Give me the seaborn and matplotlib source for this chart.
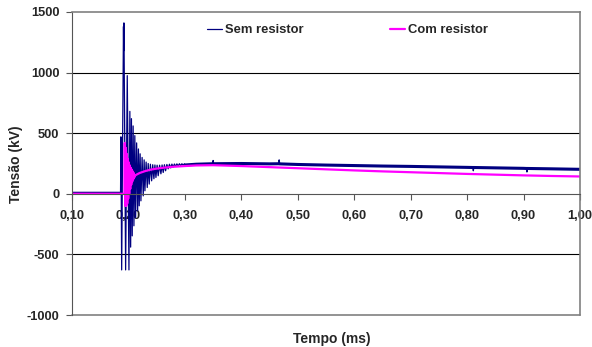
import numpy as np
import pandas as pd
import matplotlib
matplotlib.use('Agg')
import matplotlib.pyplot as plt
import seaborn as sns

# Sem resistor (tempo em ms, tensao em kV) - extremos
sem_t = [0.100, 0.150, 0.1860, 0.1867, 0.1880, 0.1912, 0.1916, 0.1920, 0.1950,
         0.1979, 0.2009,
         0.2025, 0.2039, 0.2053, 0.2067, 0.2083, 0.2097, 0.2113, 0.2127, 0.2145,
         0.2163, 0.2177, 0.2191, 0.2207, 0.2221, 0.2242, 0.2262, 0.2278, 0.2292,
         0.2313, 0.2333, 0.2350, 0.2368, 0.2389, 0.2411, 0.2430, 0.2451, 0.2469,
         0.2487, 0.2508, 0.2527, 0.2552, 0.2575, 0.2596, 0.2616, 0.2637, 0.2658,
         0.2681, 0.2704, 0.2726, 0.2749, 0.2770, 0.2793, 0.2814, 0.2837, 0.2858,
         0.2881, 0.2903, 0.2926, 0.2947, 0.2970, 0.2991, 0.3014,
         0.320, 0.349, 0.350, 0.351, 0.400, 0.450, 0.466, 0.467, 0.468, 0.500,
         0.550, 0.600, 0.650, 0.700, 0.750, 0.800, 0.810, 0.811, 0.812, 0.850,
         0.900, 0.905, 0.906, 0.907, 0.950, 1.000]
sem_v = [12, 12, 12, 470, -628, 1380, 1180, 1410, -628,
         975, -628,
         680, -440, 620, -347, 560, -264, 480, -196, 420,
         -140, 370, -99, 330, -58, 300, -17, 280, 25,
         262, 52, 250, 80, 244, 107, 240, 124, 238,
         135, 236, 149, 236, 165, 238, 176, 240, 190,
         242, 206, 244, 214, 245, 220, 246, 226, 247,
         230, 248, 233, 248, 236, 248, 238,
         244, 248, 275, 248, 250, 247, 248, 280, 247, 242,
         237, 233, 229, 226, 222, 218, 217, 190, 217, 214,
         210, 209, 180, 209, 206, 202]
sem_spikes = [0.350, 0.467, 0.811, 0.906]

# Com resistor
com_t = [0.100, 0.1929, 0.1935, 0.1943, 0.1952, 0.1961, 0.1970, 0.1979, 0.1988,
         0.1996, 0.2005, 0.2014, 0.2023, 0.2032, 0.2041, 0.2050, 0.2058, 0.2067,
         0.2076, 0.2085, 0.2094, 0.2103, 0.2115, 0.215, 0.220, 0.230, 0.240,
         0.250, 0.260, 0.270, 0.280, 0.290, 0.300, 0.320, 0.350, 0.400, 0.450,
         0.500, 0.550, 0.600, 0.650, 0.700, 0.750, 0.800, 0.850, 0.900, 0.950, 1.000]
com_v = [0, 0, 420, -100, 380, -100, 330, -80, 290,
         -40, 260, 0, 235, 40, 215, 75, 200, 100,
         185, 120, 172, 135, 150, 160, 172, 188, 200,
         208, 214, 219, 223, 226, 229, 234, 236, 229, 220,
         211, 202, 193, 185, 178, 171, 164, 158, 152, 147, 143]

x_ticks = [0.1, 0.2, 0.3, 0.4, 0.5, 0.6, 0.7, 0.8, 0.9, 1.0]
x_labels = ['0,10', '0,20', '0,30', '0,40', '0,50', '0,60', '0,70', '0,80', '0,90', '1,00']
y_ticks = [-1000, -500, 0, 500, 1000, 1500]
y_labels = ['-1000', '-500', '0', '500', '1000', '1500']

sns.set_style('white')
plt.rcParams['font.family'] = ['Liberation Sans', 'DejaVu Sans']
plt.rcParams['font.weight'] = 'bold'

fig = plt.figure(figsize=(5.92, 3.47), dpi=100)
ax = fig.add_axes([72 / 592, 1 - 315 / 347, (580 - 72) / 592, (315 - 12) / 347])

sem = pd.DataFrame({'t': sem_t, 'v': sem_v})
com = pd.DataFrame({'t': com_t, 'v': com_v})

sns.lineplot(data=sem, x='t', y='v', ax=ax, color='#000080', lw=0.9,
             estimator=None, sort=False, label='Sem resistor')
# traço mais grosso no regime permanente (ruido), sem os picos
steady = sem[(sem.t >= 0.30) & (~sem.t.isin(sem_spikes))]
sns.lineplot(data=steady, x='t', y='v', ax=ax, color='#000080', lw=2.2,
             estimator=None, sort=False, legend=False)
sns.lineplot(data=com, x='t', y='v', ax=ax, color='#FF00FF', lw=1.6,
             estimator=None, sort=False, label='Com resistor')

ax.set_xlim(0.1, 1.0)
ax.set_ylim(-1000, 1500)
ax.set_yticks(y_ticks)
ax.set_yticklabels(y_labels)
ax.set_xticks(x_ticks)
ax.set_xticklabels(x_labels)

for yv in [-500, 500, 1000]:
    ax.axhline(yv, color='black', lw=0.8, zorder=0)
ax.axhline(-1000, color='#808080', lw=1.2, clip_on=False)

ax.spines['bottom'].set_position(('data', 0))
ax.spines['bottom'].set_color('#555555')
ax.spines['left'].set_color('#555555')
for s in ['top', 'right']:
    ax.spines[s].set_color('#808080')
    ax.spines[s].set_linewidth(1.2)

ax.tick_params(axis='x', direction='out', length=4, pad=8, labelsize=9.3,
               color='#555555', bottom=True)
ax.tick_params(axis='y', direction='out', length=4, pad=5, labelsize=9.3,
               color='#555555', left=True)
for lab in ax.get_xticklabels() + ax.get_yticklabels():
    lab.set_fontweight('bold')

ax.set_xlabel('')
ax.set_ylabel('')
fig.text(332 / 592, 1 - 339 / 347, 'Tempo (ms)', ha='center', va='center',
         fontsize=10, fontweight='bold')
fig.text(16 / 592, 1 - 164 / 347, 'Tensão (kV)', ha='center', va='center',
         rotation=90, fontsize=10, fontweight='bold')

ax.legend(loc='center left', bbox_to_anchor=(207 / 592, 1 - 30 / 347),
          bbox_transform=fig.transFigure, ncol=2, frameon=False,
          handlelength=1.15, handletextpad=0.25, columnspacing=6.6,
          borderpad=0, borderaxespad=0,
          prop={'weight': 'bold', 'size': 9.4})

fig.savefig('out.png', dpi=100)
